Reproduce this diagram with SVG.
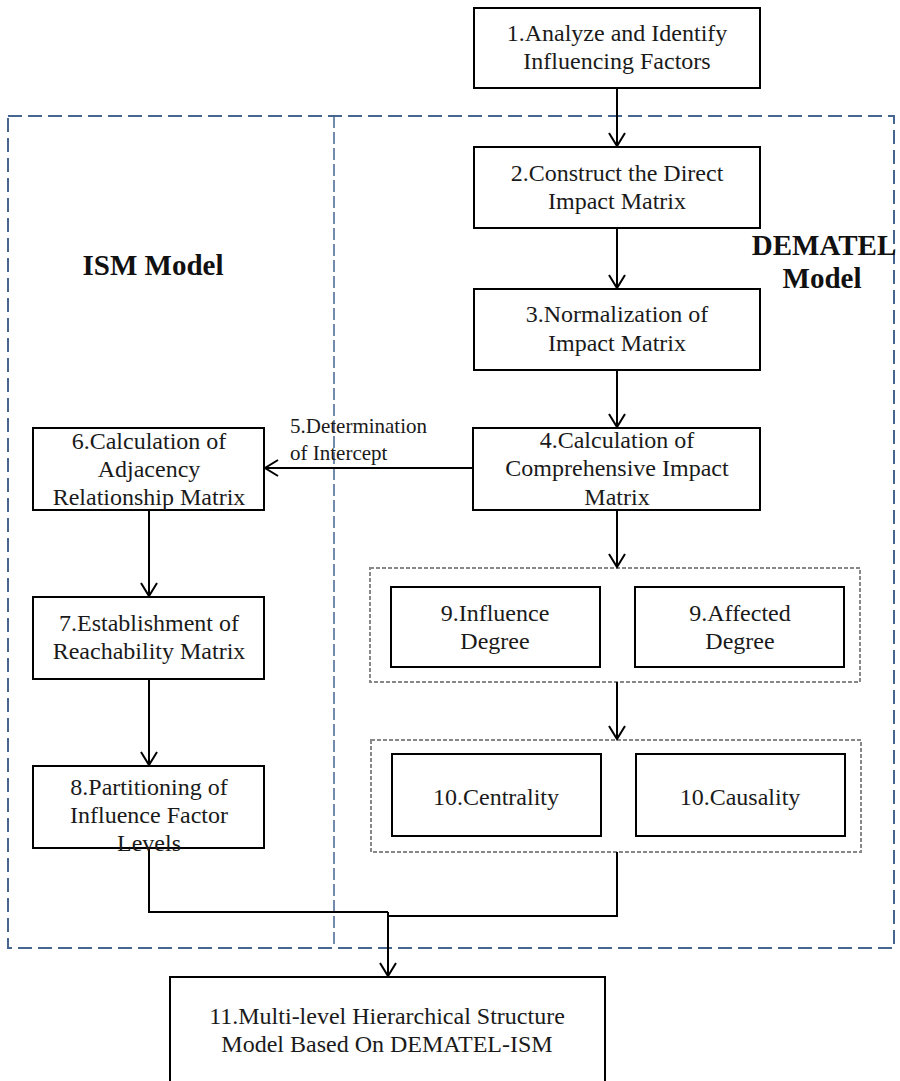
<svg xmlns="http://www.w3.org/2000/svg" width="900" height="1081" viewBox="0 0 900 1081">
<style>
.box{fill:#fff;stroke:#000;stroke-width:2}
.t{font-family:"Liberation Serif","Times New Roman",serif;font-size:24px;fill:#1a1a1a;text-anchor:middle}
.lbl{font-family:"Liberation Serif","Times New Roman",serif;font-size:21px;fill:#1a1a1a}
.b{font-family:"Liberation Serif","Times New Roman",serif;font-size:29px;font-weight:bold;fill:#111;text-anchor:middle}
.c{fill:none;stroke:#000;stroke-width:2}
.grp{fill:none;stroke:#888;stroke-width:2;stroke-dasharray:4 2}
</style>
<defs>
<marker id="ah" markerWidth="16" markerHeight="20" refX="14" refY="10" orient="auto" markerUnits="userSpaceOnUse">
<path d="M1,2 L14,10 L1,18" fill="none" stroke="#000" stroke-width="2"/>
</marker>
</defs>
<rect width="900" height="1081" fill="#fff"/>
<g id="regions">
<rect x="8" y="116" width="886" height="832" fill="none" stroke="#46668f" stroke-width="2" stroke-dasharray="14 6"/>
<line x1="334" y1="116" x2="334" y2="948" stroke="#46668f" stroke-width="1.5" stroke-dasharray="12 4"/>
<text class="b" x="153" y="275">ISM Model</text>
<text class="b" x="824" y="255">DEMATEL</text>
<text class="b" x="822" y="288">Model</text>
<rect class="grp" x="370" y="568" width="490" height="114"/>
<rect class="grp" x="371" y="740" width="490" height="112"/>
</g>
<g id="connectors">
<line class="c" x1="617" y1="88" x2="617" y2="146" marker-end="url(#ah)"/>
<line class="c" x1="617" y1="228" x2="617" y2="288" marker-end="url(#ah)"/>
<line class="c" x1="617" y1="370" x2="617" y2="427" marker-end="url(#ah)"/>
<line class="c" x1="473" y1="468" x2="265" y2="468" marker-end="url(#ah)"/>
<line class="c" x1="617" y1="510" x2="617" y2="567" marker-end="url(#ah)"/>
<line class="c" x1="617" y1="682" x2="617" y2="739" marker-end="url(#ah)"/>
<line class="c" x1="149" y1="510" x2="149" y2="596" marker-end="url(#ah)"/>
<line class="c" x1="149" y1="679" x2="149" y2="765" marker-end="url(#ah)"/>
<polyline class="c" points="149,848 149,912 388,912"/>
<polyline class="c" points="617,852 617,916 388,916"/>
<line class="c" x1="388" y1="912" x2="388" y2="976" marker-end="url(#ah)"/>
<text class="lbl" x="290" y="433">5.Determination</text>
<text class="lbl" x="290" y="460">of Intercept</text>
</g>
<g id="n1"><rect class="box" x="474" y="8" width="286" height="80"/>
<text class="t" x="617" y="41">1.Analyze and Identify</text><text class="t" x="617" y="69">Influencing Factors</text></g>
<g id="n2"><rect class="box" x="474" y="147" width="286" height="81"/>
<text class="t" x="617" y="181">2.Construct the Direct</text><text class="t" x="617" y="209">Impact Matrix</text></g>
<g id="n3"><rect class="box" x="474" y="289" width="286" height="81"/>
<text class="t" x="617" y="322">3.Normalization of</text><text class="t" x="617" y="351">Impact Matrix</text></g>
<g id="n4"><rect class="box" x="473" y="428" width="287" height="82"/>
<text class="t" x="617" y="448">4.Calculation of</text><text class="t" x="617" y="476">Comprehensive Impact</text><text class="t" x="617" y="505">Matrix</text></g>
<g id="n6"><rect class="box" x="33" y="428" width="231" height="82"/>
<text class="t" x="149" y="449">6.Calculation of</text><text class="t" x="149" y="477">Adjacency</text><text class="t" x="149" y="505">Relationship Matrix</text></g>
<g id="n7"><rect class="box" x="33" y="597" width="231" height="82"/>
<text class="t" x="149" y="631">7.Establishment of</text><text class="t" x="149" y="659">Reachability Matrix</text></g>
<g id="n8"><rect class="box" x="33" y="766" width="231" height="82"/>
<text class="t" x="149" y="795">8.Partitioning of</text><text class="t" x="149" y="823">Influence Factor</text><text class="t" x="149" y="851">Levels</text></g>
<g id="n9a"><rect class="box" x="391" y="587" width="209" height="80"/>
<text class="t" x="495" y="621">9.Influence</text><text class="t" x="495" y="649">Degree</text></g>
<g id="n9b"><rect class="box" x="635" y="587" width="209" height="80"/>
<text class="t" x="740" y="621">9.Affected</text><text class="t" x="740" y="649">Degree</text></g>
<g id="n10a"><rect class="box" x="392" y="754" width="209" height="82"/>
<text class="t" x="496" y="805">10.Centrality</text></g>
<g id="n10b"><rect class="box" x="636" y="754" width="209" height="82"/>
<text class="t" x="740" y="805">10.Causality</text></g>
<g id="n11"><rect class="box" x="170" y="977" width="435" height="110"/>
<text class="t" x="387" y="1024">11.Multi-level Hierarchical Structure</text><text class="t" x="387" y="1052">Model Based On DEMATEL-ISM</text></g>
</svg>
